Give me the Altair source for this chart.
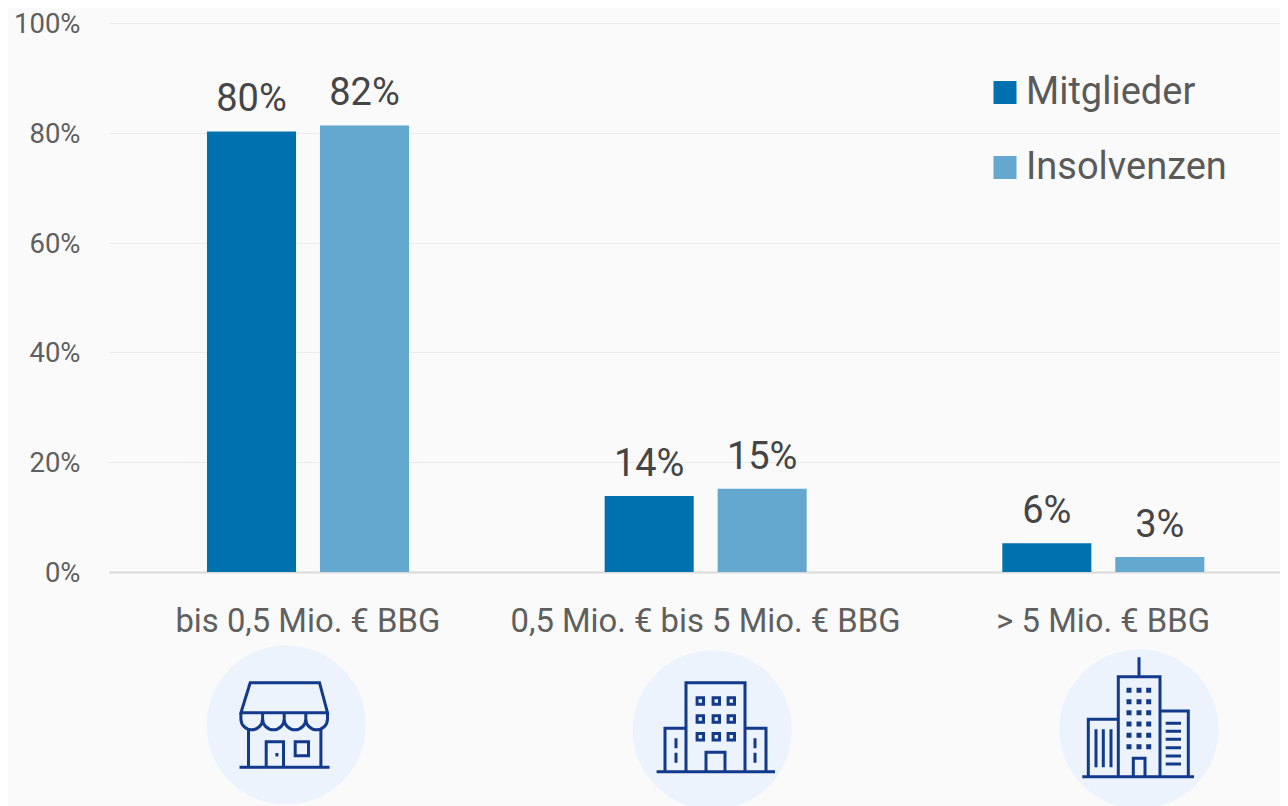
import altair as alt
import pandas as pd

categories = ["bis 0,5 Mio. € BBG", "0,5 Mio. € bis 5 Mio. € BBG", "> 5 Mio. € BBG"]
series = ["Mitglieder", "Insolvenzen"]
mitglieder = [80.25, 13.85, 5.25]
insolvenzen = [81.35, 15.15, 2.75]
mitglieder_labels = ["80%", "14%", "6%"]
insolvenzen_labels = ["82%", "15%", "3%"]
y_ticks = [0, 20, 40, 60, 80, 100]

BG = "#fafafa"
DARK = "#0071af"
LIGHT = "#65a8cf"
ICON = "#12398a"
DISC = "#ecf3fc"


def rect(x0, y0, x1, y1):
    return f"M{x0} {y0}L{x1} {y0}L{x1} {y1}L{x0} {y1}Z"


def line(x0, y0, x1, y1):
    return f"M{x0} {y0}L{x1} {y1}"


# Icon outlines, in pixels around each disc's centre
scallops = "".join(
    f"M{a} -12.3L{a} -6A10.8 10.8 0 0 0 {b} -6L{b} -12.3"
    for a, b in ((-45.3, -23.6), (-23.6, -2), (-2, 19.6), (19.6, 41.3))
)
shop_icon = (
    "M-36 -42.3L33.3 -42.3L41.3 -12.3L-45.3 -12.3Z"
    + scallops
    + line(-37.7, 3.3, -37.7, 42.3)
    + line(34.7, 3.3, 34.7, 42.3)
    + line(-46.7, 42.3, 43.3, 42.3)
    + "M-20 42.3L-20 16.7L-2.7 16.7L-2.7 42.3"
    + line(-9.3, 28, -9.3, 31.5)
    + rect(9, 16.7, 22.3, 30.7)
)

office_icon = (
    "M-26.3 41.7L-26.3 -47.3L32.7 -47.3L32.7 41.7"
    + "M-26.3 -1.7L-47.3 -1.7L-47.3 41.7"
    + "M32.7 -1.7L53.7 -1.7L53.7 41.7"
    + line(-55.7, 41.7, 62.7, 41.7)
    + "M-6.3 41.7L-6.3 22.3L12.7 22.3L12.7 41.7"
    + "".join(rect(x - 3.2, y - 3.2, x + 3.2, y + 3.2) for y in (-29, -11, 6.7) for x in (-12, 4, 19))
    + "".join(line(x, a, x, b) for x in (-36.3, 42.7) for a, b in ((8.3, 18.3), (22.7, 32.7)))
)

tower_icon = (
    line(0, -71.7, 0, -52.3)
    + "M-20.7 47.7L-20.7 -52.3L21 -52.3L21 47.7"
    + "M-20.7 -9.7L-50.7 -9.7L-50.7 47.7"
    + "M21 -18L49.3 -18L49.3 47.7"
    + line(-56.7, 47.7, 55, 47.7)
    + "M-5.7 47.7L-5.7 29.3L6 29.3L6 47.7"
    + "".join(rect(x - 1, y - 1, x + 1, y + 1) for y in (-38.7, -27.3, -16.3, -5, 6.3, 17.7) for x in (-10, 0, 9.7))
    + "".join(line(x, 0.3, x, 38.3) for x in (-43, -35.7, -28))
    + "".join(line(26.7, y, 42, y) for y in (-5.7, 2.3, 10.3, 18.7, 27, 35))
)

df = pd.DataFrame({
    "Kategorie": categories * 2,
    "Reihe": [series[0]] * 3 + [series[1]] * 3,
    "Anteil": mitglieder + insolvenzen,
    "Label": mitglieder_labels + insolvenzen_labels,
})

x_enc = alt.X(
    "Kategorie:N",
    sort=categories,
    scale=alt.Scale(range=[0, 1193], paddingInner=0, paddingOuter=0),
    axis=alt.Axis(
        title=None,
        labelAngle=0,
        labelFont="Roboto",
        labelFontSize=32.8,
        labelColor="#5f5f5f",
        labelPadding=33,
        ticks=False,
        domainColor="#d9d9d9",
        domainWidth=2,
        grid=False,
        labelLimit=600,
    ),
)
y_enc = alt.Y(
    "Anteil:Q",
    scale=alt.Scale(domain=[0, 100]),
    axis=alt.Axis(
        title=None,
        values=y_ticks,
        labelExpr="datum.value + '%'",
        labelFont="Roboto",
        labelFontSize=27.5,
        labelColor="#5f5f5f",
        labelPadding=29,
        labelOffset=1.5,
        ticks=False,
        domain=False,
        gridColor="#ebebeb",
        gridWidth=1,
    ),
)
off_enc = alt.XOffset(
    "Reihe:N",
    sort=series,
    scale=alt.Scale(domain=series, range=[86, 312], paddingInner=0.212, paddingOuter=0.106),
)

bars = alt.Chart(df).mark_bar().encode(
    x=x_enc,
    y=y_enc,
    xOffset=off_enc,
    color=alt.Color(
        "Reihe:N",
        sort=series,
        scale=alt.Scale(domain=series, range=[DARK, LIGHT]),
        legend=alt.Legend(
            title=None,
            orient="none",
            legendX=877,
            legendY=50.5,
            symbolType="square",
            symbolSize=529,
            symbolStrokeWidth=0,
            labelFont="Roboto",
            labelFontSize=38,
            labelColor="#5a5a5a",
            labelOffset=2,
            rowPadding=37,
            labelLimit=400,
        ),
    ),
)

texts = alt.Chart(df).mark_text(
    font="Roboto", fontSize=38, color="#454545", baseline="alphabetic", dy=-20
).encode(x=x_enc, y=y_enc, xOffset=off_enc, text="Label:N")


def icon_layers(name, path, cx, cy):
    base = alt.Chart(pd.DataFrame({"icon": [name]}))
    disc = base.mark_circle(size=25300, color=DISC, opacity=1).encode(
        x=alt.value(cx), y=alt.value(cy)
    )
    glyph = base.mark_point(
        shape=path, size=4, filled=False, stroke=ICON, strokeWidth=3, opacity=1
    ).encode(x=alt.value(cx), y=alt.value(cy))
    return [disc, glyph]


layers = (
    [bars, texts]
    + icon_layers("shop", shop_icon, 177.2, 702)
    + icon_layers("office", office_icon, 603.3, 707)
    + icon_layers("tower", tower_icon, 1030, 706)
)

chart = (
    alt.layer(*layers)
    .properties(
        width=1171,
        height=549,
        padding={"left": 101, "top": 15, "right": 0, "bottom": 234},
        autosize=alt.AutoSizeParams(type="none"),
        background=BG,
    )
    .configure_view(stroke=None)
)

chart.save("out.html", embed_options={"renderer": "svg", "actions": False})
